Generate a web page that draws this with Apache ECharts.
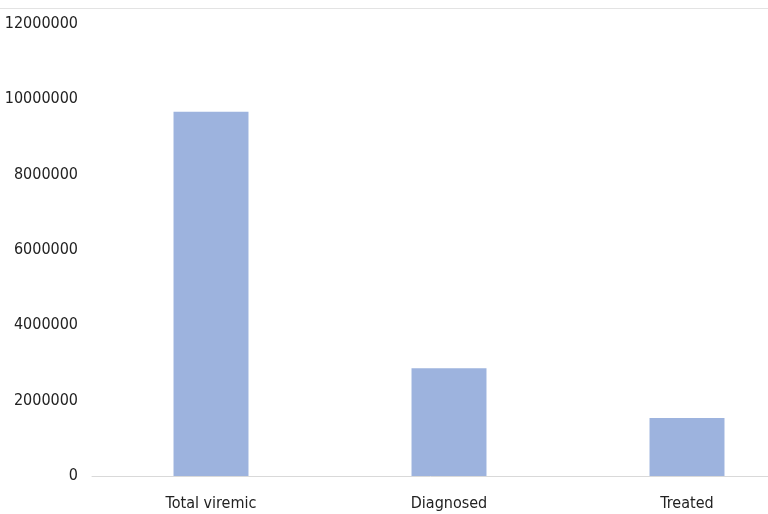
<!DOCTYPE html>
<html>
<head>
<meta charset="utf-8">
<script src="https://cdn.jsdelivr.net/npm/echarts@6/dist/echarts.min.js"></script>
<style>
  html, body { margin: 0; padding: 0; background: #fff; }
  #chart { width: 768px; height: 514px; }
</style>
</head>
<body>
<div id="chart"></div>
<script>
// data
var categories = ['Total viremic', 'Diagnosed', 'Treated'];
var values = [9670000, 2860000, 1540000];
var yTicks = [0, 2000000, 4000000, 6000000, 8000000, 10000000, 12000000];

var labelFont = '"Liberation Sans Narrow", "DejaVu Sans Condensed", sans-serif';

var myChart = echarts.init(document.getElementById('chart'));
myChart.setOption({
    backgroundColor: '#fff',
    animation: false,
    graphic: [{
        type: 'line',
        shape: { x1: 0, y1: 8.5, x2: 768, y2: 8.5 },
        style: { stroke: '#e3e3e3', lineWidth: 1 }
    }],
    grid: { left: 92, top: 24, width: 714, height: 452, containLabel: false, outerBoundsMode: 'none' },
    xAxis: {
        type: 'category',
        data: categories,
        axisTick: { show: false },
        axisLine: { lineStyle: { color: '#d9d9d9', width: 1 } },
        axisLabel: {
            color: '#222',
            fontFamily: labelFont,
            fontSize: 16,
            margin: 20
        }
    },
    yAxis: {
        type: 'value',
        min: yTicks[0],
        max: yTicks[yTicks.length - 1],
        interval: 2000000,
        splitLine: { show: false },
        axisLine: { show: false },
        axisTick: { show: false },
        axisLabel: {
            color: '#222',
            fontFamily: labelFont,
            fontSize: 16,
            margin: 14,
            formatter: function (v) { return String(v); }
        }
    },
    series: [{
        type: 'bar',
        data: values,
        barWidth: '31.5%',
        itemStyle: { color: '#9db3de' }
    }]
});
</script>
</body>
</html>
